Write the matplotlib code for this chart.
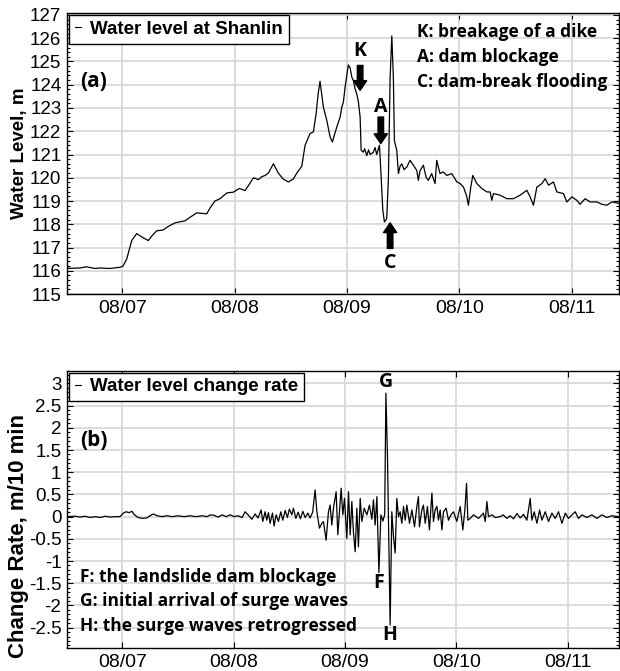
import numpy as np
import pandas as pd
import matplotlib
matplotlib.use('Agg')
import matplotlib.pyplot as plt
import matplotlib.dates as mdates
from matplotlib.ticker import MultipleLocator, FuncFormatter

# water level at Shanlin, time given as day of August (fractional)
level_day = [6.508, 6.623, 6.680, 6.757, 6.801, 6.890, 6.980, 7.006, 7.039, 7.084,
             7.128, 7.175, 7.232, 7.264, 7.306, 7.362, 7.407, 7.469, 7.558, 7.603,
             7.663, 7.752, 7.781, 7.825, 7.870, 7.906, 7.932, 7.988, 8.042, 8.093,
             8.128, 8.167, 8.211, 8.244, 8.271, 8.300, 8.345, 8.389, 8.431, 8.478,
             8.523, 8.553, 8.598, 8.627, 8.671, 8.701, 8.725, 8.743, 8.760, 8.790,
             8.820, 8.850, 8.870, 8.909, 8.939, 8.954, 8.968, 8.983, 9.012, 9.028,
             9.043, 9.057, 9.072, 9.087, 9.102, 9.117, 9.126, 9.146, 9.157, 9.176,
             9.192, 9.206, 9.235, 9.250, 9.265, 9.289, 9.301, 9.319, 9.333, 9.354,
             9.369, 9.384, 9.399, 9.413, 9.422, 9.443, 9.458, 9.473, 9.488, 9.508,
             9.532, 9.562, 9.591, 9.621, 9.635, 9.650, 9.680, 9.704, 9.724, 9.754,
             9.784, 9.799, 9.828, 9.857, 9.888, 9.933, 9.978, 10.007, 10.037, 10.067,
             10.081, 10.102, 10.120, 10.156, 10.200, 10.245, 10.274, 10.289, 10.304, 10.363,
             10.423, 10.482, 10.541, 10.601, 10.630, 10.660, 10.690, 10.735, 10.764, 10.794,
             10.838, 10.868, 10.927, 10.957, 11.002, 11.046, 11.075, 11.120, 11.164, 11.224,
             11.269, 11.313, 11.358, 11.402, 11.423]
level_m = [116.10, 116.12, 116.17, 116.10, 116.12, 116.10, 116.15, 116.20, 116.50, 117.30,
           117.60, 117.45, 117.30, 117.50, 117.72, 117.75, 117.90, 118.06, 118.15, 118.30,
           118.49, 118.45, 118.70, 119.00, 119.10, 119.25, 119.35, 119.38, 119.54, 119.45,
           119.70, 120.00, 119.92, 120.05, 120.10, 120.20, 120.60, 120.20, 119.95, 119.82,
           119.95, 120.20, 120.50, 121.40, 121.90, 121.97, 122.75, 123.60, 124.15, 123.04,
           122.47, 121.75, 121.54, 122.18, 122.61, 123.04, 123.25, 123.90, 124.85, 124.73,
           124.33, 124.18, 123.83, 123.60, 123.25, 122.61, 121.18, 121.10, 121.25, 120.95,
           121.20, 121.00, 121.10, 121.30, 121.00, 121.40, 120.32, 118.60, 118.10, 118.25,
           120.03, 124.30, 126.10, 124.30, 121.60, 121.18, 120.18, 120.50, 120.60, 120.35,
           120.46, 120.75, 120.54, 120.32, 119.89, 120.30, 120.54, 120.03, 119.89, 120.18,
           119.75, 120.75, 120.18, 120.25, 120.10, 120.18, 119.82, 119.75, 119.60, 119.18,
           118.82, 119.60, 120.10, 119.75, 119.54, 119.39, 119.39, 119.03, 119.32, 119.25,
           119.10, 119.10, 119.25, 119.46, 119.18, 118.82, 119.60, 119.75, 119.96, 119.68,
           119.82, 119.39, 119.32, 118.96, 119.18, 119.03, 118.86, 119.10, 118.96, 118.96,
           118.86, 118.82, 118.96, 118.92, 118.90]

# water level change rate (m per 10 min)
rate_day = [6.503, 6.575, 6.620, 6.665, 6.710, 6.755, 6.800, 6.845, 6.889, 6.934,
            6.979, 7.009, 7.033, 7.060, 7.087, 7.105, 7.141, 7.177, 7.219, 7.249,
            7.279, 7.312, 7.357, 7.402, 7.447, 7.500, 7.554, 7.608, 7.662, 7.716,
            7.761, 7.788, 7.824, 7.860, 7.896, 7.932, 7.968, 8.004, 8.040, 8.075,
            8.102, 8.129, 8.163, 8.192, 8.219, 8.246, 8.261, 8.282, 8.297, 8.312,
            8.327, 8.348, 8.363, 8.381, 8.402, 8.423, 8.441, 8.462, 8.482, 8.500,
            8.522, 8.536, 8.558, 8.579, 8.599, 8.621, 8.642, 8.666, 8.686, 8.709,
            8.731, 8.747, 8.770, 8.792, 8.806, 8.830, 8.851, 8.866, 8.881, 8.896,
            8.920, 8.935, 8.956, 8.965, 8.980, 8.995, 9.016, 9.031, 9.046, 9.061,
            9.075, 9.091, 9.106, 9.120, 9.136, 9.151, 9.172, 9.196, 9.219, 9.241,
            9.255, 9.270, 9.286, 9.304, 9.322, 9.340, 9.356, 9.367, 9.381, 9.405,
            9.420, 9.435, 9.450, 9.465, 9.480, 9.495, 9.510, 9.525, 9.540, 9.555,
            9.579, 9.600, 9.624, 9.645, 9.659, 9.668, 9.690, 9.704, 9.720, 9.740,
            9.758, 9.780, 9.794, 9.809, 9.825, 9.839, 9.854, 9.870, 9.884, 9.908,
            9.929, 9.951, 9.974, 10.004, 10.034, 10.058, 10.076, 10.091, 10.103, 10.124,
            10.154, 10.199, 10.243, 10.259, 10.274, 10.288, 10.319, 10.349, 10.394, 10.420,
            10.454, 10.483, 10.513, 10.544, 10.573, 10.603, 10.633, 10.663, 10.678, 10.699,
            10.723, 10.747, 10.768, 10.798, 10.827, 10.858, 10.888, 10.917, 10.948, 10.978,
            11.007, 11.038, 11.067, 11.097, 11.128, 11.172, 11.217, 11.262, 11.307, 11.352,
            11.397, 11.456]
rate_m = [0.00, 0.01, -0.01, 0.01, -0.02, 0.00, -0.02, 0.01, -0.01, 0.00,
          0.00, 0.08, 0.11, 0.09, 0.12, 0.05, -0.02, -0.04, -0.03, 0.02,
          0.06, 0.02, 0.00, 0.02, 0.00, 0.02, 0.00, 0.02, 0.00, 0.02,
          0.00, 0.04, 0.03, -0.01, 0.04, 0.00, 0.04, 0.00, 0.02, -0.02,
          0.11, 0.04, -0.06, 0.06, -0.03, 0.15, -0.11, 0.11, -0.08, 0.09,
          -0.15, 0.08, -0.21, 0.04, -0.11, 0.11, -0.08, 0.14, -0.02, 0.17,
          0.04, 0.19, -0.04, 0.10, -0.05, 0.12, -0.02, 0.08, -0.03, 0.10,
          0.60, 0.11, -0.26, -0.15, -0.11, -0.53, 0.11, 0.26, -0.19, 0.19,
          0.56, -0.41, 0.34, 0.64, 0.04, 0.41, -0.49, 0.56, -0.41, 0.34,
          -0.34, -0.79, 0.19, -0.68, 0.41, -0.11, 0.19, 0.04, 0.26, -0.06,
          0.38, -0.19, 0.45, -1.26, 0.04, -0.10, 0.05, 2.78, 1.35, -2.44,
          0.11, -0.45, -0.82, 0.41, 0.00, 0.11, -0.15, 0.23, -0.08, 0.26,
          -0.15, 0.15, -0.23, 0.23, 0.45, -0.23, 0.15, 0.26, -0.15, 0.23,
          -0.30, 0.53, -0.11, 0.15, 0.23, -0.08, 0.15, -0.30, 0.11, 0.19,
          -0.08, 0.04, 0.11, -0.11, 0.23, -0.30, 0.15, 0.75, -0.08, -0.04,
          0.04, -0.04, 0.08, -0.11, 0.34, 0.00, 0.04, -0.02, 0.00, 0.04,
          -0.04, 0.02, -0.05, 0.07, -0.03, 0.05, -0.08, 0.41, -0.08, 0.11,
          -0.15, 0.15, -0.08, 0.11, -0.11, 0.08, -0.04, 0.11, -0.15, 0.08,
          -0.04, 0.04, 0.11, -0.04, 0.04, -0.02, 0.04, -0.04, 0.04, -0.02,
          0.02, 0.00]

# event markers: (letter, day, level at arrow tail, level at arrow tip, level of letter)
level_events = [('K', 9.117, 124.83, 123.76, 125.47),
                ('A', 9.301, 122.61, 121.47, 123.04),
                ('C', 9.384, 116.96, 118.06, 116.32)]
rate_events = [('G', 9.367, 3.03), ('F', 9.304, -1.49), ('H', 9.405, -2.66)]

level_notes = ['K: breakage of a dike', 'A: dam blockage', 'C: dam-break flooding']
rate_notes = ['F: the landslide dam blockage', 'G: initial arrival of surge waves',
              'H: the surge waves retrogressed']

t0 = pd.Timestamp('2010-08-01')


def to_time(days):
    return t0 + pd.to_timedelta(np.asarray(days) - 1.0, unit='D')


arial = 'Liberation Sans'
calibri = 'Open Sans'
grid_col = '#d9d9d9'

fig = plt.figure(figsize=(6.2, 6.71), dpi=100)
ax1 = fig.add_axes([0.1081, 0.5618, 0.8895, 0.4183])
ax2 = fig.add_axes([0.1081, 0.0338, 0.8895, 0.4137])


def style_axis(ax, xlim, ylim, major, minor):
    ax.set_xlim(to_time([xlim[0]])[0], to_time([xlim[1]])[0])
    ax.set_ylim(*ylim)
    ax.xaxis.set_major_locator(mdates.DayLocator())
    ax.xaxis.set_major_formatter(mdates.DateFormatter('%m/%d'))
    ax.yaxis.set_major_locator(MultipleLocator(major))
    ax.yaxis.set_minor_locator(MultipleLocator(minor))
    ax.yaxis.set_major_formatter(FuncFormatter(lambda v, p: '{:g}'.format(round(v, 2))))
    ax.grid(True, which='major', color=grid_col, lw=1.3)
    ax.set_axisbelow(True)
    ax.tick_params(which='both', direction='in', top=True, right=True, width=0.8)
    ax.tick_params(which='major', length=4, pad=4)
    ax.tick_params(which='minor', length=2)
    ax.tick_params(axis='x', labelsize=14)
    ax.tick_params(axis='y', labelsize=13.5)
    for lab in ax.get_xticklabels() + ax.get_yticklabels():
        lab.set_family(arial)
    for sp in ax.spines.values():
        sp.set_linewidth(1.0)


# (a) water level
ax1.plot(to_time(level_day), level_m, color='black', lw=0.9, label='Water level at Shanlin')
style_axis(ax1, (6.508, 11.417), (115, 127.07), 1, 0.2)
ax1.set_ylabel('Water Level, m', family=arial, fontsize=13.5, fontweight='bold')
ax1.yaxis.set_label_coords(-0.070, 0.5)

for name, d, tail, tip, txt in level_events:
    t = to_time([d])[0]
    ax1.annotate('', xy=(t, tip), xytext=(t, tail),
                 arrowprops=dict(facecolor='black', edgecolor='black', width=4.0,
                                 headwidth=9.5, headlength=7, shrink=0))
    ax1.text(t, txt, name, ha='center', va='center', family=calibri,
             fontweight='bold', fontsize=14)

for i, note in enumerate(level_notes):
    ax1.text(0.635, 0.934 - i * 0.089, note, transform=ax1.transAxes, ha='left',
             va='center', family=calibri, fontweight='bold', fontsize=12.5)
ax1.text(0.024, 0.756, '(a)', transform=ax1.transAxes, ha='left', va='center',
         family=calibri, fontweight='bold', fontsize=15)

# (b) change rate
ax2.plot(to_time(rate_day), rate_m, color='black', lw=0.9, label='Water level change rate')
style_axis(ax2, (6.503, 11.456), (-2.965, 3.285), 0.5, 0.1)
ax2.set_ylabel('Change Rate, m/10 min', family=arial, fontsize=16, fontweight='bold')
ax2.yaxis.set_label_coords(-0.069, 0.405)

for name, d, y in rate_events:
    ax2.text(to_time([d])[0], y, name, ha='center', va='center', family=calibri,
             fontweight='bold', fontsize=14)

for i, note in enumerate(rate_notes):
    ax2.text(0.024, 0.258 - i * 0.089, note, transform=ax2.transAxes, ha='left',
             va='center', family=calibri, fontweight='bold', fontsize=12.5)
ax2.text(0.024, 0.750, '(b)', transform=ax2.transAxes, ha='left', va='center',
         family=calibri, fontweight='bold', fontsize=15)

for ax in (ax1, ax2):
    leg = ax.legend(loc='upper left', bbox_to_anchor=(0.0, 1.0), borderaxespad=0.1,
                    handlelength=0.35, handletextpad=0.5, borderpad=0.3,
                    fancybox=False, framealpha=1, edgecolor='black',
                    prop=dict(family=arial, weight='bold', size=13.5))
    leg.get_frame().set_linewidth(1.0)
    for h in leg.get_lines():
        h.set_linewidth(0.8)

fig.savefig('out.png', dpi=100)
